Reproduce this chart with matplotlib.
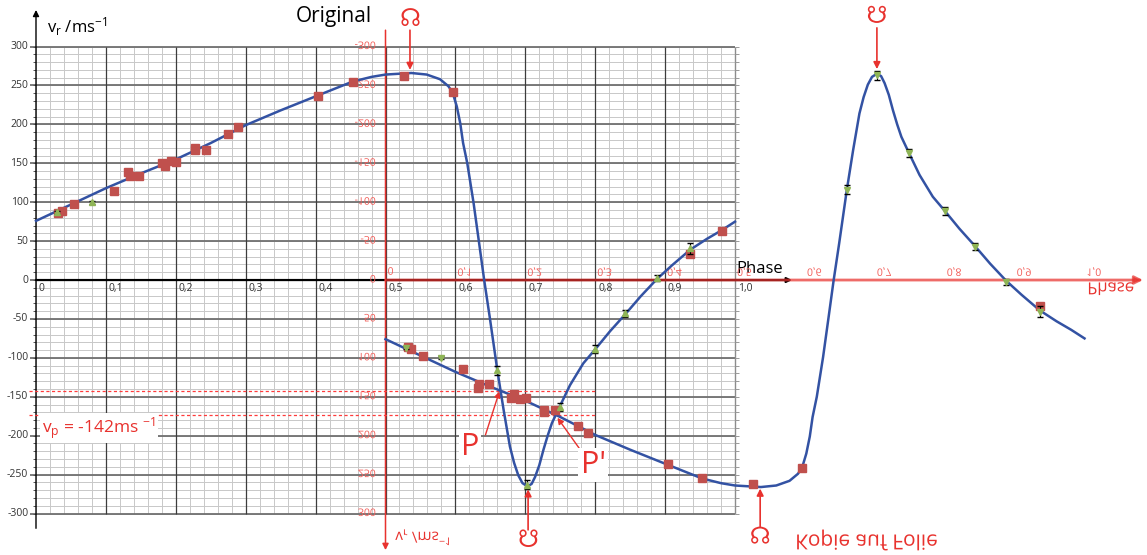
#!/usr/bin/env python
# -*- coding: utf-8 -*-
"""
Radialgeschwindigkeitskurve mit gespiegelter Kopie (Folie) zur Bestimmung von v_p.
"""

import numpy as np
import matplotlib
matplotlib.use('Agg')
import matplotlib.pyplot as plt
import matplotlib.patheffects as pe
from matplotlib.transforms import Affine2D

# Ausgleichskurve (Phase, v_r in m/s)
kurve_phase = [0.000, 0.050, 0.100, 0.150, 0.200, 0.250, 0.300, 0.350, 0.400, 0.453,
               0.480, 0.500, 0.537, 0.559, 0.578, 0.590, 0.596, 0.602, 0.607, 0.611,
               0.617, 0.626, 0.634, 0.641, 0.649, 0.660, 0.669, 0.678, 0.684, 0.690,
               0.696, 0.703, 0.709, 0.714, 0.720, 0.726, 0.732, 0.738, 0.749, 0.764,
               0.783, 0.800, 0.821, 0.843, 0.865, 0.888, 0.910, 0.936, 0.960, 0.981, 1.000]
kurve_v = [76, 97, 118, 137, 155, 176, 199, 218, 236, 255,
           261, 264, 266, 264, 258, 249, 241, 223, 201, 176,
           150, 99, 47, 1, -47, -116, -167, -214, -235, -251,
           -261, -265, -262, -253, -238, -218, -200, -184, -163, -135,
           -107, -89, -66, -44, -21, 1, 19, 39, 53, 64, 75]

# Messwerte Quelle 1 (Quadrate)
quad_phase = [0.032, 0.037, 0.054, 0.111, 0.132, 0.134, 0.148, 0.180, 0.184, 0.193, 0.201,
              0.227, 0.227, 0.243, 0.275, 0.289, 0.404, 0.453, 0.526, 0.596, 0.936, 0.981]
quad_v = [86, 89, 98, 114, 139, 134, 134, 151, 147, 153, 152,
          170, 167, 167, 188, 196, 236, 255, 262, 241, 34, 63]

# Messwerte Quelle 2 (Dreiecke mit Fehlerbalken)
drei_phase = [0.030, 0.080, 0.660, 0.703, 0.749, 0.800, 0.843, 0.888, 0.936]
drei_v = [87, 100, -116, -263, -163, -89, -43, 3, 41]
drei_fehler = [2, 2, 6, 6, 5, 5, 5, 4, 7]

# Achsen
phase_ticks = [0.0, 0.1, 0.2, 0.3, 0.4, 0.5, 0.6, 0.7, 0.8, 0.9, 1.0]
phase_labels = ['0', '0,1', '0,2', '0,3', '0,4', '0,5', '0,6', '0,7', '0,8', '0,9', '1,0']
v_ticks = [300, 250, 200, 150, 100, 50, 0, -50, -100, -150, -200, -250, -300]

V_P = -142
V_P2 = -174     # Schnitt bei P'
VERSATZ = 0.5   # Folie um eine halbe Periode verschoben

BLAU = '#3352a3'
ROT = '#e8322e'
ROT_HELL = '#f25a55'
QUAD_FARBE = '#c0504d'
DREI_FARBE = '#8fb556'


class Spiegeln(pe.AbstractPathEffect):
    """Zeichnet Text an seiner waagerechten Mittellinie gespiegelt (Folie umgedreht)."""

    def draw_path(self, renderer, gc, tpath, affine, rgbFace=None):
        box = tpath.get_extents(affine)
        mitte = (box.y0 + box.y1) / 2
        affine = affine + Affine2D().translate(0, -mitte).scale(1, -1).translate(0, mitte)
        renderer.draw_path(gc, tpath, affine, rgbFace)


def pfeil(ax, von, nach, farbe, lw=1.2, groesse=10, alpha=1.0):
    ax.annotate('', xy=nach, xytext=von,
                arrowprops=dict(arrowstyle='-|>', color=farbe, lw=lw, alpha=alpha,
                                mutation_scale=groesse, shrinkA=0, shrinkB=0),
                zorder=2.5)


def zeichne():
    plt.rcParams['font.family'] = ['Open Sans', 'DejaVu Sans']
    plt.rcParams['mathtext.default'] = 'regular'

    fig = plt.figure(figsize=(11.47, 5.55), dpi=100)
    ax = fig.add_axes([0, 0, 1, 1])
    ax.set_xlim(-0.0515, 1.5894)
    ax.set_ylim(-353.3, 359.8)
    ax.axis('off')

    # Millimeterpapier
    fein_x = np.arange(0, 1.0001, 0.02)
    fein_y = np.arange(-300, 301, 10)
    ax.vlines(fein_x, -300, 300, color='#c8c8c8', lw=0.7, zorder=1)
    ax.hlines(fein_y, 0, 1.0, color='#c8c8c8', lw=0.7, zorder=1)
    ax.hlines(v_ticks, -0.009, 1.0, color='#707070', lw=1.3, zorder=1.1)
    ax.vlines(phase_ticks[1:-1], -300, 300, color='#3c3c3c', lw=0.9, zorder=1.2)
    ax.vlines(1.0, -300, 300, color='#8c8c8c', lw=1.0, zorder=1.2)
    ax.hlines(fein_y, -0.005, 0.0, color='#555555', lw=0.7, zorder=1.2)
    ax.hlines(fein_y, 1.0, 1.006, color='#999999', lw=0.7, zorder=1.2)

    # Achsen Original
    pfeil(ax, (0, -319), (0, 347), 'black', lw=1.0, groesse=9)
    pfeil(ax, (0, 0), (1.0815, 0), 'black', lw=1.6, groesse=7)
    for v in v_ticks:
        ax.text(-0.011, v, str(v), ha='right', va='center', fontsize=7.5, color='#333333')
    for p, lab in zip(phase_ticks, phase_labels):
        ax.text(p + 0.004, -4, lab, ha='left', va='top', fontsize=7.5, color='#333333')
    ax.text(0.016, 325, r'$v_r$ /ms$^{-1}$', fontsize=12, va='center')
    ax.text(0.372, 338, 'Original', fontsize=15, va='center')
    ax.text(1.002, 4, 'Phase', fontsize=12, va='bottom')

    # Achsen der Folie (gespiegelt)
    spiegel = [Spiegeln()]
    pfeil(ax, (VERSATZ, 321), (VERSATZ, -347), ROT, lw=1.1, groesse=9)
    pfeil(ax, (VERSATZ, 0), (1.5837, 0), ROT, lw=2.0, groesse=12, alpha=0.72)
    for v in v_ticks:
        ax.text(0.486, v, str(-v), ha='right', va='center', fontsize=7.5,
                color=ROT_HELL, path_effects=spiegel)
    for p, lab in zip(phase_ticks, phase_labels):
        ax.text(p + VERSATZ + 0.003, 3, lab, ha='left', va='bottom', fontsize=7.5,
                color=ROT_HELL, path_effects=spiegel)
    ax.text(1.504, -14, 'Phase', fontsize=12, va='center', color=ROT, path_effects=spiegel)
    ax.text(0.514, -331, r'$v_r$ /ms$^{-1}$', fontsize=11, va='center', color=ROT,
            path_effects=spiegel)
    ax.text(1.086, -334, 'Kopie auf Folie', fontsize=15, va='center', color=ROT,
            path_effects=spiegel)

    # Kurven
    kp = np.array(kurve_phase)
    kv = np.array(kurve_v)
    ax.plot(kp, kv, color=BLAU, lw=1.8, zorder=3)
    ax.plot(kp + VERSATZ, -kv, color=BLAU, lw=1.8, zorder=3)

    # Messpunkte
    qp, qv = np.array(quad_phase), np.array(quad_v)
    dp, dv, df = np.array(drei_phase), np.array(drei_v), np.array(drei_fehler)
    ax.plot(qp, qv, 's', color=QUAD_FARBE, ms=5.5, zorder=4)
    ax.errorbar(dp, dv, yerr=df, fmt='^', color=DREI_FARBE, ms=5, ecolor='black',
                elinewidth=0.8, capsize=2, zorder=4)
    mq = qp < 0.95
    md = dp < 0.95
    ax.plot(qp[mq] + VERSATZ, -qv[mq], 's', color=QUAD_FARBE, ms=5.5, zorder=4)
    ax.errorbar(dp[md] + VERSATZ, -dv[md], yerr=df[md], fmt='v', color=DREI_FARBE, ms=5,
                ecolor='black', elinewidth=0.8, capsize=2, zorder=4)

    # Hilfslinien bei P und P'
    ax.hlines([V_P, V_P2], -0.01, 0.8, colors='#ff3b3b', linestyles=(0, (2.5, 2)),
              lw=0.9, zorder=2.6)
    ax.text(0.009, -190, r'$v_p$ = %dms $^{-1}$' % V_P, fontsize=12.5, va='center',
            color=ROT, zorder=5,
            bbox=dict(facecolor='white', edgecolor='none', pad=1.5))

    ax.text(0.621, -215, 'P', fontsize=22, ha='center', va='center', color=ROT, zorder=5,
            bbox=dict(facecolor='white', edgecolor='none', pad=1.5))
    ax.text(0.797, -238, "P'", fontsize=22, ha='center', va='center', color=ROT, zorder=5,
            bbox=dict(facecolor='white', edgecolor='none', pad=1.5))
    pfeil(ax, (0.643, -199), (0.663, -143), ROT, lw=1.0, groesse=9)
    pfeil(ax, (0.781, -221), (0.746, -177), ROT, lw=1.0, groesse=9)

    # Knoten: aufsteigend und absteigend
    ax.text(0.535, 334, '\u260a', fontsize=17, ha='center', va='center', color=ROT)
    pfeil(ax, (0.535, 321), (0.535, 270), ROT, lw=1.2, groesse=10)
    ax.text(0.704, -335, '\u260b', fontsize=17, ha='center', va='center', color=ROT)
    pfeil(ax, (0.704, -321), (0.704, -269), ROT, lw=1.2, groesse=10)
    ax.text(1.036, -331, '\u260b', fontsize=17, ha='center', va='center', color=ROT,
            path_effects=spiegel)
    pfeil(ax, (1.036, -317), (1.036, -268), ROT, lw=1.2, groesse=10)
    ax.text(1.203, 338, '\u260a', fontsize=17, ha='center', va='center', color=ROT,
            path_effects=spiegel)
    pfeil(ax, (1.203, 324), (1.203, 271), ROT, lw=1.2, groesse=10)

    fig.savefig('out.png', dpi=100, facecolor='white')
    plt.close(fig)


if __name__ == '__main__':
    zeichne()
